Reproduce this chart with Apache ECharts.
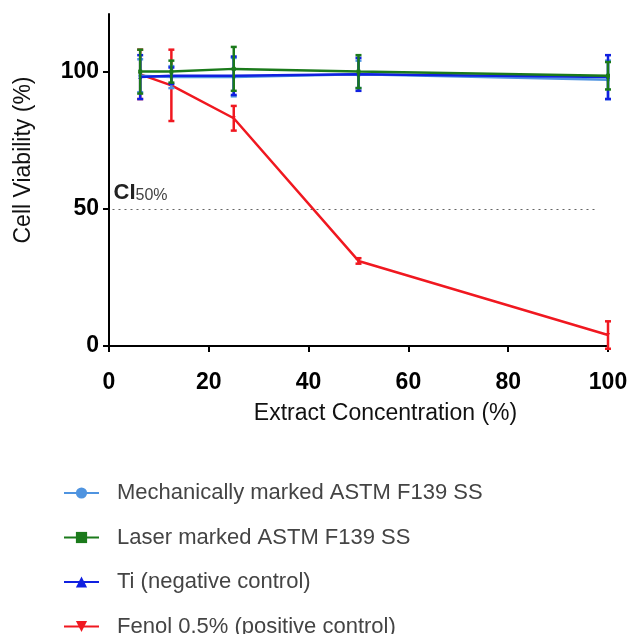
<!DOCTYPE html>
<html>
<head>
<meta charset="utf-8">
<script src="https://cdn.jsdelivr.net/npm/echarts@6/dist/echarts.min.js"></script>
<style>html,body{margin:0;padding:0;background:#fff}#c{width:627px;height:634px}</style>
</head>
<body>
<div id="c"></div>
<script>
// Data
var concentrations = [6.25, 12.5, 25, 50, 100];
var seriesNames = ['Mechanically marked ASTM F139 SS', 'Laser marked ASTM F139 SS', 'Ti (negative control)', 'Fenol 0.5% (positive control)'];
var mechMean = [98.5, 98, 98, 99, 97];
var mechErr  = [6, 4, 7, 5, 7];
var laserMean = [100, 100, 101, 100, 98.5];
var laserErr  = [8, 4, 8, 6, 5];
var tiMean = [98, 98.5, 98.5, 99, 98];
var tiErr  = [8, 3, 7, 6, 8];
var fenolMean = [99, 95, 83, 31, 4];
var fenolErr  = [9, 13, 4.5, 1, 5];
var xTicks = [0, 20, 40, 60, 80, 100];
var yTicks = [0, 50, 100];
var ciLevel = 50;

var colors = ['#4f94e0', '#1b7a1b', '#1020e0', '#f01820'];
var symbols = ['circle', 'rect', 'triangle', 'path://M0,0 L10,0 L5,10 Z'];
var means = [mechMean, laserMean, tiMean, fenolMean];
var errs = [mechErr, laserErr, tiErr, fenolErr];

function pairs(m){ return concentrations.map(function(x,i){return [x, m[i]];}); }
function errData(m,e){ return concentrations.map(function(x,i){return [x, m[i]-e[i], m[i]+e[i]];}); }

var order = [3, 0, 2, 1];
var series = [];
order.forEach(function(k){
  series.push({
    name: seriesNames[k], type: 'line', data: pairs(means[k]),
    symbol: symbols[k], symbolSize: 4, showSymbol: true,
    lineStyle: {color: colors[k], width: 2.5},
    itemStyle: {color: colors[k]},
    z: 3 + order.indexOf(k)
  });
  series.push({
    name: seriesNames[k], type: 'custom', data: errData(means[k], errs[k]),
    z: 3 + order.indexOf(k),
    renderItem: (function(col){ return function(params, api){
      var x = api.value(0);
      var lo = api.coord([x, api.value(1)]);
      var hi = api.coord([x, api.value(2)]);
      var w = 3;
      var st = {stroke: col, lineWidth: 2.5};
      return {type: 'group', children: [
        {type:'line', shape:{x1:lo[0], y1:lo[1], x2:hi[0], y2:hi[1]}, style: st},
        {type:'line', shape:{x1:lo[0]-w, y1:lo[1], x2:lo[0]+w, y2:lo[1]}, style: st},
        {type:'line', shape:{x1:hi[0]-w, y1:hi[1], x2:hi[0]+w, y2:hi[1]}, style: st}
      ]};
    };})(colors[k]),
    encode: {x: 0, y: [1, 2]}
  });
});
// CI50 reference line
series.push({
  type: 'line', data: [], silent: true,
  markLine: {
    silent: true, symbol: 'none',
    lineStyle: {color: '#666', type: [2, 4], width: 1.2},
    label: {
      position: 'insideStartTop', distance: [1, 5],
      formatter: '{a|CI}{b|50%}',
      rich: {
        a: {fontSize: 22, color: '#222', fontFamily: 'Liberation Sans', fontWeight: 'bold', verticalAlign: 'bottom'},
        b: {fontSize: 16, color: '#444', fontFamily: 'Liberation Sans', padding: [11, 0, 0, 0], verticalAlign: 'bottom'}
      }
    },
    data: [[{coord: [0.7, ciLevel]}, {coord: [97.5, ciLevel]}]]
  }
});

var chart = echarts.init(document.getElementById('c'), null, {renderer: 'canvas'});
chart.setOption({
  animation: false,
  backgroundColor: '#fff',
  color: colors,
  grid: {left: 109, right: 19, top: 14, bottom: 288, containLabel: false, outerBoundsMode: 'none'},
  xAxis: {
    type: 'value', min: 0, max: 100, interval: 20,
    name: 'Extract Concentration (%)', nameLocation: 'middle', nameGap: 56,
    nameTextStyle: {fontSize: 23, color: '#111', fontFamily: 'Liberation Sans', padding: [0, 0, 0, 54]},
    axisLine: {lineStyle: {color: '#000', width: 2}},
    axisTick: {show: true, length: 6, lineStyle: {color: '#000', width: 2}, customValues: xTicks},
    axisLabel: {fontSize: 23, fontWeight: 'bold', color: '#000', fontFamily: 'Liberation Sans', margin: 25, customValues: xTicks},
    splitLine: {show: false}
  },
  yAxis: {
    type: 'value', min: 0, max: 121, interval: 50,
    name: 'Cell Viability (%)', nameLocation: 'middle', nameGap: 74, nameRotate: 90,
    nameTextStyle: {fontSize: 23, color: '#111', fontFamily: 'Liberation Sans', padding: [0, 0, 0, 40]},
    axisLine: {show: true, lineStyle: {color: '#000', width: 2}},
    axisTick: {show: true, length: 6, lineStyle: {color: '#000', width: 2}, customValues: yTicks},
    axisLabel: {fontSize: 23, fontWeight: 'bold', color: '#000', fontFamily: 'Liberation Sans', margin: 10, customValues: yTicks},
    splitLine: {show: false}
  },
  legend: {
    orient: 'vertical', left: 63, top: 482, padding: 0, height: 200,
    itemWidth: 35, itemHeight: 14, itemGap: 22.5,
    data: seriesNames,
    textStyle: {fontSize: 22, color: '#444', fontFamily: 'Liberation Sans', padding: [0, 0, 0, 13]}
  },
  series: series
});
</script>
</body>
</html>
